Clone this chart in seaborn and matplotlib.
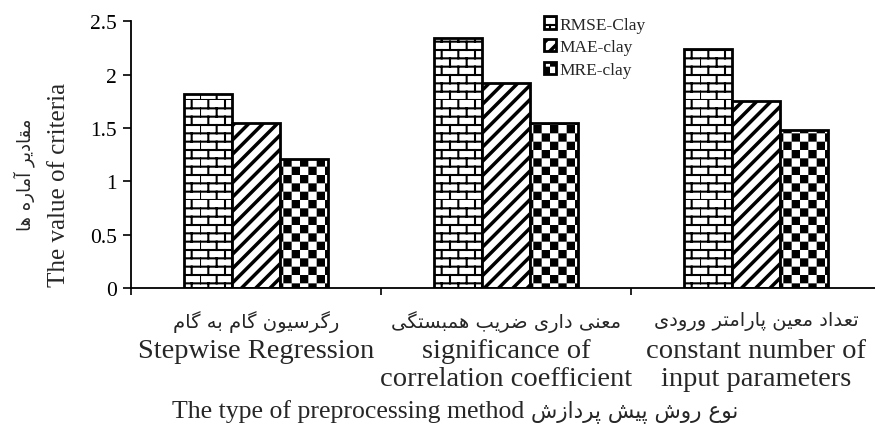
import numpy as np
import pandas as pd
import matplotlib.pyplot as plt
import matplotlib.hatch as mhatch
from matplotlib.path import Path
from matplotlib.transforms import blended_transform_factory
import seaborn as sns

# data
methods_en = ['Stepwise Regression',
              'significance of\ncorrelation coefficient',
              'constant number of\ninput parameters']
methods_fa = ['رگرسیون گام به گام', 'معنی داری ضریب همبستگی', 'تعداد معین پارامتر ورودی']
series = ['RMSE-Clay', 'MAE-clay', 'MRE-clay']
rmse = [1.82, 2.34, 2.24]
mae = [1.55, 1.92, 1.75]
mre = [1.21, 1.55, 1.48]
y_ticks = [0, 0.5, 1, 1.5, 2, 2.5]
y_ticklabels = ['0', '0.5', '1', '1.5', '2', '2.5']
ylabel_en = 'The value of criteria'
ylabel_fa = 'مقادیر آماره ها'
xlabel_en = 'The type of preprocessing method'
xlabel_fa = 'نوع روش پیش پردازش'

# matplotlib does no Arabic shaping, so use presentation forms (iso, fin, ini, med)
FORMS = {
    'ا': (0xFE8D, 0xFE8E), 'آ': (0xFE81, 0xFE82), 'د': (0xFEA9, 0xFEAA),
    'ر': (0xFEAD, 0xFEAE), 'ز': (0xFEAF, 0xFEB0), 'و': (0xFEED, 0xFEEE),
    'ب': (0xFE8F, 0xFE90, 0xFE91, 0xFE92), 'پ': (0xFB56, 0xFB57, 0xFB58, 0xFB59),
    'ت': (0xFE95, 0xFE96, 0xFE97, 0xFE98), 'س': (0xFEB1, 0xFEB2, 0xFEB3, 0xFEB4),
    'ش': (0xFEB5, 0xFEB6, 0xFEB7, 0xFEB8), 'ض': (0xFEBD, 0xFEBE, 0xFEBF, 0xFEC0),
    'ع': (0xFEC9, 0xFECA, 0xFECB, 0xFECC), 'ق': (0xFED5, 0xFED6, 0xFED7, 0xFED8),
    'گ': (0xFB92, 0xFB93, 0xFB94, 0xFB95), 'م': (0xFEE1, 0xFEE2, 0xFEE3, 0xFEE4),
    'ن': (0xFEE5, 0xFEE6, 0xFEE7, 0xFEE8), 'ه': (0xFEE9, 0xFEEA, 0xFEEB, 0xFEEC),
    'ی': (0xFBFC, 0xFBFD, 0xFBFE, 0xFBFF),
}


def shape_word(word):
    out = []
    for i, ch in enumerate(word):
        f = FORMS[ch]
        prev_joins = i > 0 and len(FORMS[word[i - 1]]) == 4
        next_joins = len(f) == 4 and i < len(word) - 1
        k = 3 if (prev_joins and next_joins) else 1 if prev_joins else 2 if next_joins else 0
        out.append(chr(f[k]))
    return ''.join(out[::-1])


def fa(text):
    # shaped, in visual (right-to-left) order
    return ' '.join(shape_word(w) for w in text.split()[::-1])


# custom hatches: brick, thick diagonal stripes, checkerboard
def brick_path(rows=12, cols=6):
    verts, codes = [], []
    h = 1 / rows
    for r in range(rows):
        y = r * h
        verts += [(0, y), (1, y)]
        codes += [Path.MOVETO, Path.LINETO]
        off = (r % 2) * 0.5 / cols
        for c in range(cols):
            x = c / cols + off
            verts += [(x, y), (x, y + h)]
            codes += [Path.MOVETO, Path.LINETO]
    return Path(verts, codes)


def stripe_path(n=7, w=0.02):
    verts, codes = [], []
    for i in range(-n, n + 1):
        x = i / n
        verts += [(x, 0), (x + w, 0), (x + w + 1, 1), (x + 1, 1), (x, 0)]
        codes += [Path.MOVETO, Path.LINETO, Path.LINETO, Path.LINETO, Path.CLOSEPOLY]
    return Path(verts, codes)


def checker_path(n=12, inset=0.0105):
    verts, codes = [], []
    s = 1 / n
    for i in range(n):
        for j in range(n):
            if (i + j) % 2 == 0:
                x0, y0, x1, y1 = i * s + inset, j * s + inset, (i + 1) * s - inset, (j + 1) * s - inset
                verts += [(x0, y0), (x1, y0), (x1, y1), (x0, y1), (x0, y0)]
                codes += [Path.MOVETO, Path.LINETO, Path.LINETO, Path.LINETO, Path.CLOSEPOLY]
    return Path(verts, codes)


CUSTOM_HATCH = {'+': brick_path(), '/': stripe_path(), 'x': checker_path()}
_orig_get_path = mhatch.get_path


def _get_path(pattern, density=6):
    if pattern in CUSTOM_HATCH:
        return CUSTOM_HATCH[pattern]
    return _orig_get_path(pattern, density)


mhatch.get_path = _get_path
hatches = ['+', '/', 'x']

sns.set_style('ticks')
plt.rcParams['font.family'] = ['Liberation Serif', 'DejaVu Sans']
plt.rcParams['hatch.linewidth'] = 1.5
plt.rcParams['hatch.color'] = 'black'

df = pd.DataFrame({
    'method': methods_en * 3,
    'series': np.repeat(series, 3),
    'value': rmse + mae + mre,
})

fig = plt.figure(figsize=(8.75, 4.35), dpi=100)
ax = fig.add_axes([0.1497, 0.335, 0.857, 0.614])
sns.barplot(data=df, x='method', y='value', hue='series', order=methods_en, hue_order=series,
            palette={s: 'white' for s in series}, saturation=1, width=0.576,
            edgecolor='black', linewidth=2, legend=False, ax=ax)
for cont, h in zip(ax.containers, hatches):
    for bar in cont:
        bar.set_hatch(h)

ax.set_xlim(-0.5, 2.5)
ax.set_ylim(0, 2.5)
ax.set_yticks(y_ticks)
ax.set_yticklabels(y_ticklabels, fontsize=15.5)
ax.tick_params(axis='y', direction='out', length=6, width=1.2, colors='black', pad=4)
ax.set_xticks(range(len(methods_en)))
ax.set_xticklabels(methods_en, fontsize=20.5, linespacing=1.15)
ax.tick_params(axis='x', which='major', length=0, pad=36)
ax.set_xticks([-0.5, 0.5, 1.5, 2.5], minor=True)
ax.tick_params(axis='x', which='minor', direction='out', length=5, width=1.2, colors='black')
for side in ['top', 'right']:
    ax.spines[side].set_visible(False)
for side in ['left', 'bottom']:
    ax.spines[side].set_color('black')
    ax.spines[side].set_linewidth(1.3)

# persian line above each english category label
trans = blended_transform_factory(ax.transData, ax.transAxes)
for i, name in enumerate(methods_fa):
    ax.text(i, -0.122, fa(name), transform=trans, ha='center', va='center',
            fontsize=14, family='DejaVu Sans')

# x title: english part then persian part
ax.set_xlabel('')
ax.text(0.525, -0.459, xlabel_en, transform=ax.transAxes, ha='right', va='center', fontsize=18.5)
ax.text(0.533, -0.459, fa(xlabel_fa), transform=ax.transAxes, ha='left', va='center',
        fontsize=15.5, family='DejaVu Sans')

ax.set_ylabel(ylabel_en, fontsize=18)
ax.yaxis.set_label_coords(-0.081, 0.39)
ax.text(-0.1427, 0.43, fa(ylabel_fa), transform=ax.transAxes, rotation=90,
        ha='center', va='center', fontsize=13, family='DejaVu Sans')

ax.legend(ax.containers, series, loc='upper left', bbox_to_anchor=(0.612, 0.98),
          bbox_transform=fig.transFigure, frameon=False, fontsize=12.5, borderpad=0,
          handlelength=0.7, handleheight=0.7, handletextpad=0.2, labelspacing=0.38)

fig.savefig('out.png', dpi=100)
